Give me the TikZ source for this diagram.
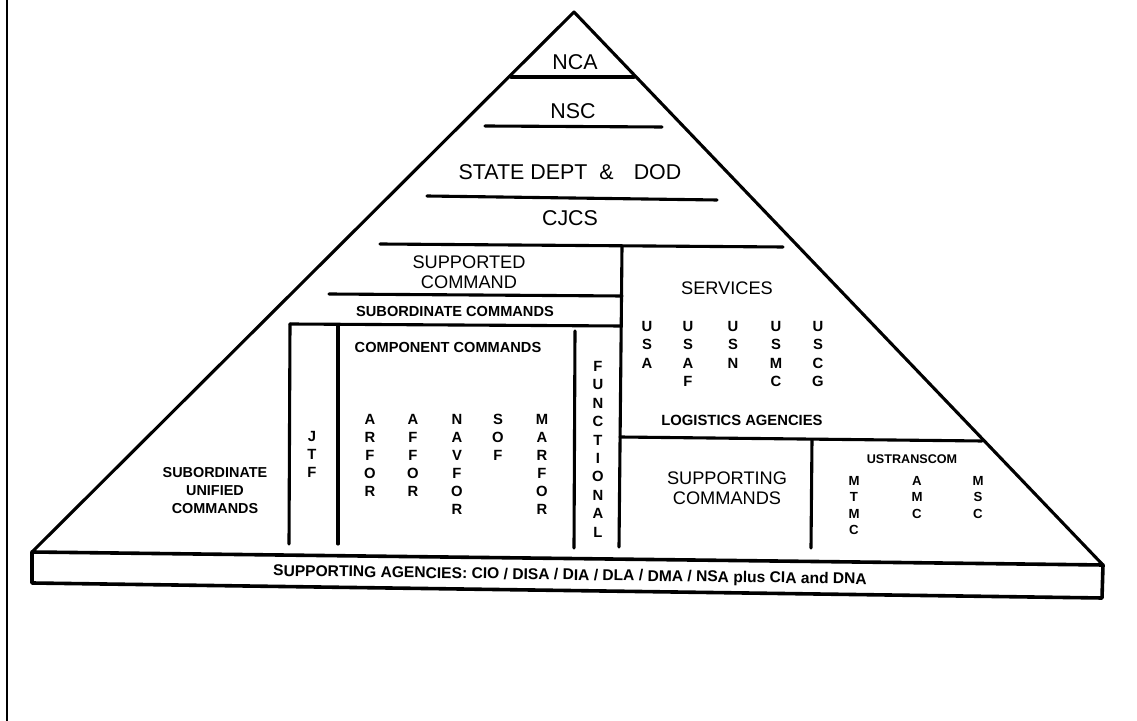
\documentclass[tikz,border=0pt]{standalone}
\usepackage{fontspec}
\setmainfont{Liberation Sans}
\begin{document}
\begin{tikzpicture}[x=0.5pt,y=-0.5pt,
  ln/.style={line width=1.55pt, line cap=round, line join=round},
  big/.style={font=\fontsize{10.7}{12}\selectfont, inner sep=0pt},
  mid/.style={font=\fontsize{9.1}{10}\selectfont, align=center, inner sep=0pt},
  sm/.style={font=\bfseries\fontsize{7.3}{9}\selectfont, align=center, inner sep=0pt},
  col/.style={font=\bfseries\fontsize{7.4}{9}\selectfont, align=center, inner sep=0pt, anchor=north},
  colb/.style={font=\bfseries\fontsize{7.4}{9.2}\selectfont, align=center, inner sep=0pt, anchor=north},
  colc/.style={font=\bfseries\fontsize{6.6}{8.15}\selectfont, align=center, inner sep=0pt, anchor=north}]
\useasboundingbox (0,0) rectangle (1137,721);
% page edge
\draw[line width=1.1pt] (7,0) -- (7,721);
% pyramid
\coordinate (apex) at (574,12);
\coordinate (bl) at (32,552);
\coordinate (br) at (1103,565);
\coordinate (bbl) at (32,583);
\coordinate (bbr) at (1102,598);
\draw[ln] (bl) -- (apex) -- (br);
\draw[line width=1.8pt, line join=round] (bl) -- (br) -- (bbr) -- (bbl) -- cycle;
% horizontal levels
\draw[ln] (511,77) -- (634,77);
\draw[ln] (485,126) -- (662,127);
\draw[ln] (427,196) -- (717,200);
\draw[ln] (380,244) -- (783,247);
% supported command block
\draw[ln] (622,247) -- (619,547);
\draw[ln] (329,294) -- (622,296);
\draw[ln] (290,324) -- (621,326);
\draw[ln] (290,324) -- (289,544);
\draw[ln] (338,326) -- (338,544);
\draw[ln] (575,331) -- (574,548);
% services / supporting
\draw[ln] (620,437) -- (982,441);
\draw[ln] (812,440) -- (811,548);
% texts
\node[big] (nca) at (575,62) {NCA};
\node[big] (nsc) at (573,111) {NSC};
\node[big] (state) at (570,172) {STATE DEPT\hspace{6pt}\&\hspace{10pt}DOD};
\node[big] (cjcs) at (570,218) {CJCS};
\node[mid] (supd) at (469,272) {SUPPORTED\\COMMAND};
\node[sm] (subc) at (455,311) {SUBORDINATE COMMANDS};
\node[sm] (comp) at (448,347) {COMPONENT COMMANDS};
\node[sm, font=\bfseries\fontsize{7.2}{9}\selectfont] (subu) at (215,491) {SUBORDINATE\\UNIFIED\\COMMANDS};
\node[col] (jtf) at (312,431) {J\\T\\F};
\node[col] (arfor) at (370,414) {A\\R\\F\\O\\R};
\node[col] (affor) at (413,414) {A\\F\\F\\O\\R};
\node[col] (navfor) at (457,414) {N\\A\\V\\F\\O\\R};
\node[col] (sof) at (498,414) {S\\O\\F};
\node[col] (marfor) at (542,414) {M\\A\\R\\F\\O\\R};
\node[colb] (func) at (598,361) {F\\U\\N\\C\\T\\I\\O\\N\\A\\L};
\node[mid] (serv) at (727,288) {SERVICES};
\node[colb] (usa) at (647,321) {U\\S\\A};
\node[colb] (usaf) at (688,321) {U\\S\\A\\F};
\node[colb] (usn) at (733,321) {U\\S\\N};
\node[colb] (usmc) at (776,321) {U\\S\\M\\C};
\node[colb] (uscg) at (818,321) {U\\S\\C\\G};
\node[sm, font=\bfseries\fontsize{7.4}{9}\selectfont] (log) at (742,420) {LOGISTICS AGENCIES};
\node[mid] (suping) at (727,488) {SUPPORTING\\COMMANDS};
\node[sm, font=\bfseries\fontsize{6.3}{8}\selectfont] (ustc) at (912,459) {USTRANSCOM};
\node[colc] (mtmc) at (854,476) {M\\T\\M\\C};
\node[colc] (amc) at (917,476) {A\\M\\C};
\node[colc] (msc) at (978,476) {M\\S\\C};
\node[inner sep=0pt, font=\bfseries\fontsize{7.8}{9}\selectfont, rotate=-0.8] (agen) at (570,576) {SUPPORTING AGENCIES: CIO / DISA / DIA / DLA / DMA / NSA plus CIA and DNA};
\end{tikzpicture}
\end{document}
